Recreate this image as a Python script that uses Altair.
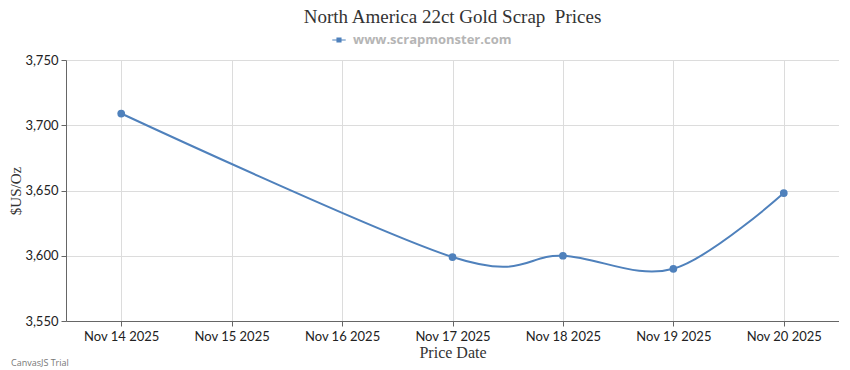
import altair as alt
import pandas as pd

dates = ["2025-11-14", "2025-11-17", "2025-11-18", "2025-11-19", "2025-11-20"]
prices = [3709, 3599, 3600, 3590, 3648]
series = ["www.scrapmonster.com"] * len(dates)
tick_days = [14, 15, 16, 17, 18, 19, 20]
y_ticks = [3550, 3600, 3650, 3700, 3750]

df = pd.DataFrame({"date": dates, "price": prices, "series": series})

W, H = 773, 261
BLUE = "#4F81BC"

legend_symbol = ("M-1,-0.09 L1,-0.09 L1,0.09 L-1,0.09 Z "
                 "M-0.38,-0.38 L0.38,-0.38 L0.38,0.38 L-0.38,0.38 Z")

x = alt.X(
    "date:T",
    scale=alt.Scale(
        type="utc",
        domain=[alt.DateTime(year=2025, month=11, date=13, hours=12, utc=True),
                alt.DateTime(year=2025, month=11, date=20, hours=12, utc=True)],
    ),
    axis=alt.Axis(
        values=[alt.DateTime(year=2025, month=11, date=d, utc=True) for d in tick_days],
        format="%b %d %Y",
        title="Price Date",
        titleFont="Liberation Serif",
        titleFontSize=16,
        titleFontWeight="normal",
        titleColor="#333",
        titlePadding=1,
        labelFont="Lato",
        labelFontSize=13,
        labelColor="#222",
        labelPadding=4,
        grid=True,
        gridColor="#dcdcdc",
        domainColor="#666",
        tickColor="#666",
        tickSize=5,
    ),
)
y = alt.Y(
    "price:Q",
    scale=alt.Scale(domain=[3550, 3750], nice=False, zero=False),
    axis=alt.Axis(
        values=y_ticks,
        format=",d",
        title="$US/Oz",
        titleFont="Liberation Serif",
        titleFontSize=15,
        titleFontWeight="normal",
        titleColor="#333",
        titlePadding=1,
        labelFont="Lato",
        labelFontSize=13,
        labelColor="#222",
        labelPadding=3,
        grid=True,
        gridColor="#dcdcdc",
        domainColor="#666",
        tickColor="#666",
        tickSize=5,
    ),
)
color = alt.Color(
    "series:N",
    scale=alt.Scale(range=[BLUE]),
    legend=alt.Legend(
        title=None,
        orient="none",
        legendX=266,
        legendY=-27,
        direction="horizontal",
        symbolType=legend_symbol,
        symbolSize=180,
        symbolFillColor=BLUE,
        symbolStrokeWidth=0,
        labelFont="Open Sans",
        labelFontSize=13,
        labelFontWeight="bold",
        labelColor="#b5b5b5",
        labelOffset=7,
        padding=0,
    ),
)

base = alt.Chart(df)
line = base.mark_line(interpolate="cardinal", strokeWidth=2).encode(x=x, y=y, color=color)
pts = base.mark_circle(size=60, opacity=1).encode(
    x=x, y=y, color=alt.Color("series:N", scale=alt.Scale(range=[BLUE]), legend=None)
)
wm = alt.Chart(pd.DataFrame({"t": ["CanvasJS Trial"]})).mark_text(
    align="left", baseline="bottom", font="Open Sans", fontSize=9, color="#777"
).encode(text="t:N", x=alt.value(-55), y=alt.value(H + 47))

chart = alt.layer(line, pts, wm).properties(
    width=W,
    height=H,
    title=alt.TitleParams(
        "North America 22ct Gold Scrap\u00a0 Prices",
        font="Liberation Serif",
        fontSize=19,
        fontWeight="normal",
        color="#333",
        anchor="middle",
        offset=6,
    ),
    padding={"left": 0, "top": 0, "right": 0, "bottom": 0},
).configure_view(stroke=None)

chart.save("out.html", embed_options={"renderer": "svg", "actions": False})
